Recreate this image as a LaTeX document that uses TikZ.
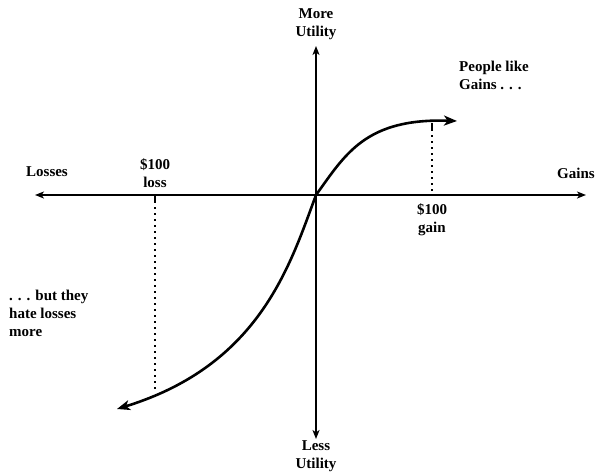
\documentclass[tikz,border=0pt]{standalone}
\usepackage{fontspec}
\setmainfont{Liberation Serif}
\usetikzlibrary{arrows.meta}
\tikzset{
  lbl/.style={font=\bfseries\fontsize{15}{18}\selectfont, align=center, inner sep=0pt},
  axis/.style={line width=1.4pt, -{Stealth[length=9pt,width=7pt,inset=2.5pt]}},
  curve/.style={line width=2.6pt, -{Stealth[length=13pt,width=10pt,inset=3.5pt]}},
  guide/.style={line width=1.5pt, dash pattern=on 1.5pt off 4.5pt}
}
\begin{document}
\begin{tikzpicture}[x=1pt, y=-1pt]
    \useasboundingbox (0,0) rectangle (595,474);
    % axes
    \coordinate (O) at (316,195);
    \coordinate (W) at (35,195);
    \coordinate (E) at (586,195);
    \coordinate (N) at (316,46);
    \coordinate (S) at (316,439);
    \draw[axis] (O) -- (W);
    \draw[axis] (O) -- (E);
    \draw[axis] (O) -- (N);
    \draw[axis] (O) -- (S);
    % axis labels
    \node[lbl] (more) at (316,24) {More\\Utility};
    \node[lbl] (less) at (316,456) {Less\\Utility};
    \node[lbl] (losses) at (47,172) {Losses};
    \node[lbl] (gains) at (576,173) {Gains};
    % value curve
    \coordinate (G) at (457,121);
    \coordinate (L) at (117,409);
    \draw[curve] (O) .. controls (345,155) and (365,118) .. (G);
    \draw[curve] (O) .. controls (290,265) and (260,365) .. (L);
    % $100 marks
    \coordinate (gaintop) at (432,123);
    \coordinate (gainbot) at (432,195);
    \coordinate (losstop) at (155,195);
    \coordinate (lossbot) at (155,393);
    \draw[guide] (gaintop) -- (gainbot);
    \draw[guide] (losstop) -- (lossbot);
    \draw[line width=1.3pt] (losstop) -- ++(0,7);
    \draw[line width=1.3pt] (gaintop) -- ++(0,6);
    \node[lbl] (loss) at (155,173) {\$100\\loss};
    \node[lbl] (gain) at (432,220) {\$100\\gain};
    % comments
    \node[lbl, align=left, anchor=west] (like) at (459,75) {People like\\Gains . . .};
    \node[lbl, align=left, anchor=west] (hate) at (9,313) {. . . but they\\hate losses\\more};
\end{tikzpicture}
\end{document}
